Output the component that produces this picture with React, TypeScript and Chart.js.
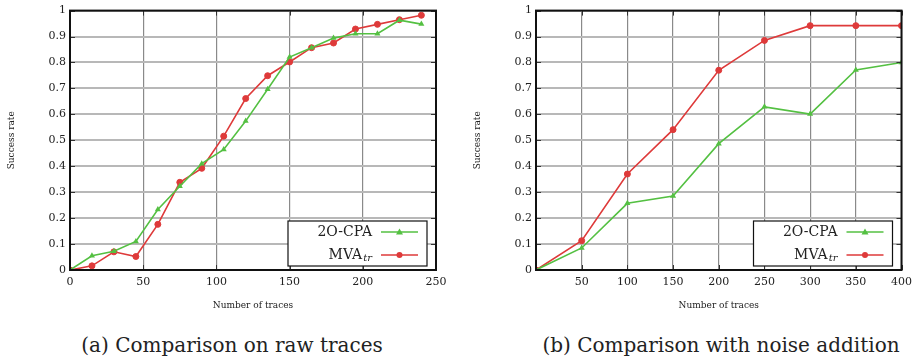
import React, { useEffect, useRef } from "react";
import { Chart, registerables } from "chart.js";

Chart.register(...registerables);

// ---------- data ----------
const rawTraces = [0, 15, 30, 45, 60, 75, 90, 105, 120, 135, 150, 165, 180, 195, 210, 225, 240];
const rawCPA = [0, 0.055, 0.072, 0.11, 0.233, 0.323, 0.41, 0.465, 0.574, 0.697, 0.821, 0.857, 0.894, 0.911, 0.911, 0.963, 0.948];
const rawMVA = [0, 0.016, 0.07, 0.052, 0.176, 0.338, 0.392, 0.516, 0.661, 0.749, 0.802, 0.857, 0.875, 0.929, 0.947, 0.965, 0.982];

const noiseTraces = [0, 50, 100, 150, 200, 250, 300, 350, 400];
const noiseCPA = [0, 0.085, 0.257, 0.285, 0.487, 0.629, 0.601, 0.771, 0.8];
const noiseMVA = [0, 0.113, 0.37, 0.541, 0.77, 0.885, 0.942, 0.942, 0.942];

const yTicks = [0, 0.1, 0.2, 0.3, 0.4, 0.5, 0.6, 0.7, 0.8, 0.9, 1];
const seriesNames = ["2O-CPA", "MVA"];
const mvaSub = "tr";
const xTitle = "Number of traces";
const yTitle = "Success rate";
const captions = ["(a) Comparison on raw traces", "(b) Comparison with noise addition"];

const GREEN = "rgb(84,192,66)";
const RED = "rgb(222,58,58)";
const FONT = "'DejaVu Serif', 'Liberation Serif', serif";

const framePlugin = {
  id: "frame",
  afterDatasetsDraw(chart: any) {
    const { ctx, chartArea: a } = chart;
    ctx.save();
    const ys = chart.scales.y;
    const xs = chart.scales.x;
    ctx.strokeStyle = "#333";
    ctx.lineWidth = 1;
    yTicks.forEach((v) => {
      const py = Math.round(ys.getPixelForValue(v)) + 0.5;
      ctx.beginPath();
      ctx.moveTo(a.left, py);
      ctx.lineTo(a.left + 5, py);
      ctx.moveTo(a.right, py);
      ctx.lineTo(a.right - 5, py);
      ctx.stroke();
    });
    xs.ticks.forEach((t: any) => {
      const px = Math.round(xs.getPixelForValue(t.value)) + 0.5;
      ctx.beginPath();
      ctx.moveTo(px, a.bottom);
      ctx.lineTo(px, a.bottom - 5);
      ctx.moveTo(px, a.top);
      ctx.lineTo(px, a.top + 5);
      ctx.stroke();
    });
    ctx.strokeStyle = "#111";
    ctx.lineWidth = 2;
    ctx.strokeRect(a.left, a.top, a.right - a.left, a.bottom - a.top);

    // legend
    const bw = 139;
    const bh = 45;
    const bx = a.right - 9 - bw;
    const by = a.bottom - 4 - bh;
    ctx.fillStyle = "#fff";
    ctx.fillRect(bx, by, bw, bh);
    ctx.strokeStyle = "#111";
    ctx.lineWidth = 1.2;
    ctx.strokeRect(bx, by, bw, bh);
    const textRight = bx + bw - 55;
    const lineL = bx + bw - 46;
    const lineR = bx + bw - 9;
    const rows = [by + 11, by + 34];
    chart.data.datasets.forEach((ds: any, i: number) => {
      const ry = rows[i];
      ctx.fillStyle = "#222";
      ctx.textBaseline = "middle";
      ctx.textAlign = "right";
      if (i === 1) {
        ctx.font = `italic 10px ${FONT}`;
        const sw = ctx.measureText(mvaSub).width;
        ctx.fillText(mvaSub, textRight, ry + 3);
        ctx.font = `14px ${FONT}`;
        ctx.fillText(seriesNames[1], textRight - sw - 1, ry);
      } else {
        ctx.font = `14px ${FONT}`;
        ctx.fillText(seriesNames[0], textRight, ry);
      }
      ctx.strokeStyle = ds.borderColor;
      ctx.lineWidth = 1.6;
      ctx.beginPath();
      ctx.moveTo(lineL, ry);
      ctx.lineTo(lineR, ry);
      ctx.stroke();
      ctx.fillStyle = ds.borderColor;
      const cx = (lineL + lineR) / 2;
      ctx.beginPath();
      if (ds.pointStyle === "triangle") {
        ctx.moveTo(cx, ry - 3.5);
        ctx.lineTo(cx + 3.5, ry + 2.5);
        ctx.lineTo(cx - 3.5, ry + 2.5);
        ctx.closePath();
      } else {
        ctx.arc(cx, ry, 3, 0, Math.PI * 2);
      }
      ctx.fill();
    });
    ctx.restore();
  },
};

function Plot(props: {
  xs: number[];
  cpa: number[];
  mva: number[];
  xMax: number;
  hideZero: boolean;
  padRight: number;
  yWidth: number;
  titlePad: number;
}) {
  const ref = useRef<HTMLCanvasElement>(null);
  useEffect(() => {
    const chart = new Chart(ref.current as HTMLCanvasElement, {
      type: "line",
      data: {
        datasets: [
          {
            label: seriesNames[0],
            data: props.xs.map((x, i) => ({ x, y: props.cpa[i] })),
            borderColor: GREEN,
            backgroundColor: GREEN,
            borderWidth: 1.6,
            pointStyle: "triangle",
            pointRadius: 3.5,
            pointBorderWidth: 0,
          },
          {
            label: seriesNames[1] + mvaSub,
            data: props.xs.map((x, i) => ({ x, y: props.mva[i] })),
            borderColor: RED,
            backgroundColor: RED,
            borderWidth: 1.6,
            pointStyle: "circle",
            pointRadius: 3,
            pointBorderWidth: 1,
          },
        ],
      },
      options: {
        animation: false,
        responsive: false,
        layout: { padding: { top: 10, right: props.padRight, left: 0, bottom: 9 } },
        plugins: { legend: { display: false }, tooltip: { enabled: false } },
        scales: {
          x: {
            type: "linear",
            min: 0,
            max: props.xMax,
            afterFit: (s: any) => {
              s.height = 41;
            },
            ticks: {
              stepSize: 50,
              color: "#222",
              font: { family: FONT, size: 11 },
              padding: 6,
              callback: (v: any) => (props.hideZero && v === 0 ? "" : String(v)),
            },
            grid: { color: "#8a8a8a", lineWidth: 1.2, drawTicks: false },
            border: { display: false },
            title: {
              display: true,
              text: xTitle,
              color: "#222",
              font: { family: FONT, size: 9 },
              padding: { top: 0, bottom: 0 },
            },
          },
          y: {
            min: 0,
            max: 1,
            afterFit: (s: any) => {
              s.width = props.yWidth;
            },
            afterBuildTicks: (s: any) => {
              s.ticks = yTicks.map((v) => ({ value: v }));
            },
            ticks: {
              color: "#222",
              font: { family: FONT, size: 11 },
              padding: 4,
              callback: (v: any) => String(v),
            },
            grid: { color: "#b8b8b8", lineWidth: 2, drawTicks: false },
            border: { display: false },
            title: {
              display: true,
              text: yTitle,
              color: "#222",
              font: { family: FONT, size: 9 },
              padding: { top: props.titlePad, bottom: 0 },
            },
          },
        },
      },
      plugins: [framePlugin],
    });
    return () => chart.destroy();
  }, []);
  return <canvas ref={ref} width={459} height={320} style={{ display: "block", width: 459, height: 320 }} />;
}

const capStyle: React.CSSProperties = {
  position: "absolute",
  top: 331,
  width: 400,
  textAlign: "center",
  fontFamily: FONT,
  fontSize: 20,
  lineHeight: "28px",
  color: "#222",
  whiteSpace: "nowrap",
};

export default function App() {
  return (
    <div style={{ position: "absolute", left: 0, top: 0, width: 918, height: 360, background: "#fff", overflow: "hidden" }}>
      <div style={{ position: "absolute", left: 0, top: 0 }}>
        <Plot xs={rawTraces} cpa={rawCPA} mva={rawMVA} xMax={250} hideZero={false} padRight={23} yWidth={70} titlePad={6} />
      </div>
      <div style={{ position: "absolute", left: 459, top: 0 }}>
        <Plot xs={noiseTraces} cpa={noiseCPA} mva={noiseMVA} xMax={400} hideZero={true} padRight={16} yWidth={77} titlePad={13} />
      </div>
      <div style={{ ...capStyle, left: 32 }}>{captions[0]}</div>
      <div style={{ ...capStyle, left: 521 }}>{captions[1]}</div>
    </div>
  );
}
